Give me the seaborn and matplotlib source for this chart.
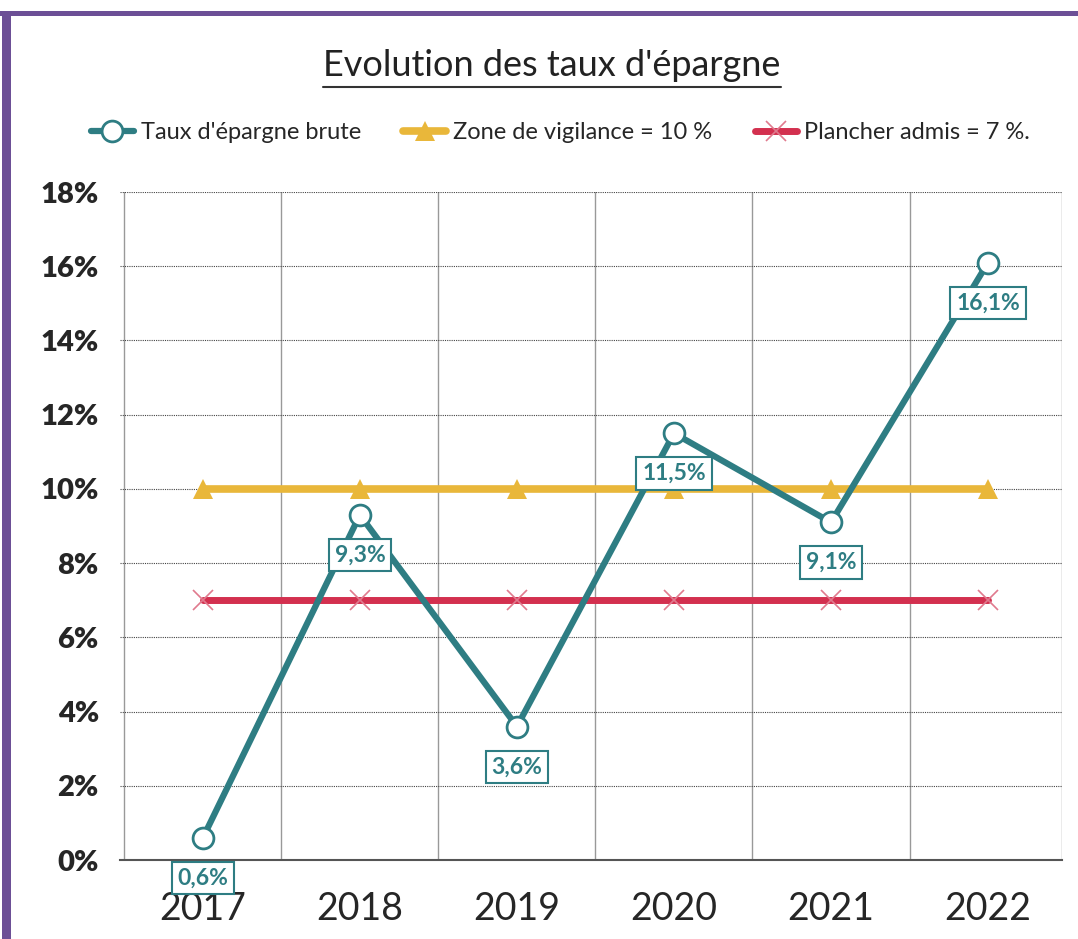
import pandas as pd
import matplotlib.pyplot as plt
import seaborn as sns
from matplotlib.patches import Rectangle
from matplotlib.ticker import FixedLocator

# Données
annees = ['2017', '2018', '2019', '2020', '2021', '2022']
taux_epargne = [0.6, 9.3, 3.6, 11.5, 9.1, 16.1]
zone_vigilance = [10, 10, 10, 10, 10, 10]
plancher = [7, 7, 7, 7, 7, 7]
etiquettes = ['0,6%', '9,3%', '3,6%', '11,5%', '9,1%', '16,1%']
graduations_y = [0, 2, 4, 6, 8, 10, 12, 14, 16, 18]

teal = '#2e7d83'
jaune = '#e9b73a'
rouge = '#d3304f'
violet = '#6c4f96'

sns.set_theme(style='white')
plt.rcParams['font.family'] = ['Lato', 'DejaVu Sans']

df = pd.DataFrame({'annee': annees, 'taux': taux_epargne,
                   'vigilance': zone_vigilance, 'plancher': plancher})

fig = plt.figure(figsize=(10.78, 9.39), dpi=100)
ax = fig.add_axes([0.111, 0.084, 0.874, 0.7115])

sns.lineplot(data=df, x='annee', y='plancher', ax=ax, color=rouge, lw=5,
             marker='x', markersize=14, markeredgewidth=1.2,
             markeredgecolor='#e07a8e', label='Plancher admis = 7 %.', zorder=3)
sns.lineplot(data=df, x='annee', y='vigilance', ax=ax, color=jaune, lw=5.5,
             marker='^', markersize=15, markeredgewidth=0,
             markerfacecolor=jaune, label='Zone de vigilance = 10 %', zorder=4)
sns.lineplot(data=df, x='annee', y='taux', ax=ax, color=teal, lw=4.5,
             marker='o', markersize=15, markerfacecolor='white',
             markeredgecolor=teal, markeredgewidth=2,
             label="Taux d'épargne brute", zorder=5)

# étiquettes de données
for i, (v, t) in enumerate(zip(taux_epargne, etiquettes)):
    ax.annotate(t, (i, v), xytext=(0, -29), textcoords='offset points',
                ha='center', va='center', color=teal, fontsize=16.5,
                fontweight='bold', zorder=6,
                bbox=dict(boxstyle='square,pad=0.25', fc='white', ec=teal, lw=1.5))

ax.set_xlim(-0.53, 5.47)
ax.set_ylim(0, 18)
ax.set_yticks(graduations_y)
ax.set_yticklabels([f'{g}%' for g in graduations_y], fontsize=21, fontweight='heavy')
ax.tick_params(axis='y', length=9, width=1, color='#555555', direction='out', pad=6)
ax.tick_params(axis='x', which='major', length=0, labelsize=27, pad=22)
ax.xaxis.set_minor_locator(FixedLocator([-0.5, 0.5, 1.5, 2.5, 3.5, 4.5, 5.47]))
ax.tick_params(axis='x', which='minor', length=10, width=1, color='#777777', direction='out')
ax.set_xlabel('')
ax.set_ylabel('')

ax.yaxis.grid(True, linestyle=(0, (1, 1)), color='#444444', lw=0.8)
ax.xaxis.grid(True, which='minor', color='#999999', lw=1)
ax.xaxis.grid(False, which='major')
for s in ['top', 'right', 'left']:
    ax.spines[s].set_visible(False)
ax.spines['bottom'].set_color('#555555')
ax.spines['bottom'].set_linewidth(1.5)

# légende
handles, labels = ax.get_legend_handles_labels()
ax.get_legend().remove()
ordre = [2, 1, 0]
fig.legend([handles[i] for i in ordre], [labels[i] for i in ordre],
           loc='center', bbox_to_anchor=(0.52, 0.859), ncol=3, frameon=False,
           fontsize=17, handlelength=1.8, handletextpad=0.3, columnspacing=1.8)

# titre souligné
titre = fig.text(0.512, 0.93, "Evolution des taux d'épargne", ha='center',
                 va='center', fontsize=26, color='#222222')
fig.canvas.draw()
bb = titre.get_window_extent().transformed(fig.transFigure.inverted())
fig.add_artist(plt.Line2D([bb.x0, bb.x1], [0.907, 0.907], color='#333333',
                          lw=1.5, transform=fig.transFigure))

# cadre violet
fig.add_artist(Rectangle((0, 1 - 16 / 939), 1, 5 / 939, transform=fig.transFigure,
                         color=violet, lw=0))
fig.add_artist(Rectangle((2 / 1078, 0), 9 / 1078, 1 - 12 / 939,
                         transform=fig.transFigure, color=violet, lw=0))

fig.savefig('out.png', dpi=100)
